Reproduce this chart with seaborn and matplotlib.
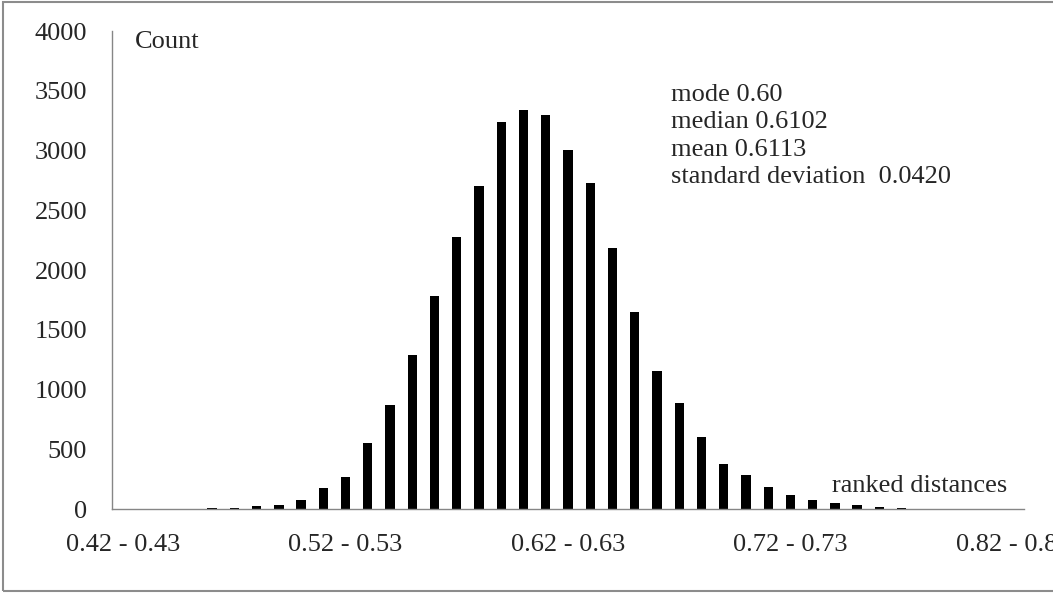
import matplotlib

matplotlib.use("Agg")

import matplotlib.pyplot as plt
import pandas as pd
import seaborn as sns
from matplotlib.patches import Rectangle
from matplotlib.ticker import FixedLocator

W, H = 1053, 593

# bins of ranked distances, 0.42-0.43 ... 0.82-0.83
bin_starts = [0.42 + 0.01 * i for i in range(41)]
bin_labels = [f"{s:.2f} - {s + 0.01:.2f}" for s in bin_starts]
counts = [
    0, 0, 0, 0, 14, 15, 25, 36, 78, 176,
    270, 552, 871, 1288, 1784, 2275, 2706, 3241, 3339, 3295,
    3005, 2726, 2188, 1653, 1159, 892, 602, 376, 290, 184,
    120, 78, 56, 33, 22, 14, 0, 0, 0, 0,
    0,
]
y_ticks = [0, 500, 1000, 1500, 2000, 2500, 3000, 3500, 4000]
stats_lines = ["mode 0.60", "median 0.6102", "mean 0.6113", "standard deviation  0.0420"]

df = pd.DataFrame({"bin": bin_labels, "count": counts})

sns.set_style("white")
plt.rcParams["font.family"] = ["Liberation Serif", "DejaVu Serif"]
FS = 19
GREY = "#868686"

fig = plt.figure(figsize=(W / 100, H / 100), dpi=100)
ax = fig.add_axes([112 / W, 1 - 509.3 / H, 912 / W, 478.3 / H])

sns.barplot(data=df, x="bin", y="count", order=bin_labels, color="black",
            saturation=1, width=0.42, linewidth=0, ax=ax)

ax.set_xlim(-0.5, len(bin_labels) - 0.5)
ax.set_ylim(0, 4000)
ax.set_yticks(y_ticks)
ax.set_yticklabels([str(v) for v in y_ticks], fontsize=FS)

major = list(range(0, len(bin_labels), 10))
ax.set_xticks(major)
ax.set_xticklabels([bin_labels[i] for i in major], fontsize=FS)
ax.xaxis.set_minor_locator(FixedLocator([i - 0.5 for i in range(len(bin_labels) + 1)]))
ax.tick_params(axis="x", which="major", length=0, pad=18)
ax.tick_params(axis="x", which="minor", length=5, width=1, color=GREY, direction="out")
ax.tick_params(axis="y", length=6, width=1, color=GREY, direction="out", pad=12)
ax.set_xlabel("")
ax.set_ylabel("")

for side in ["top", "right"]:
    ax.spines[side].set_visible(False)
for side in ["left", "bottom"]:
    ax.spines[side].set_color(GREY)
    ax.spines[side].set_linewidth(1)

fig.text(135 / W, 1 - 48 / H, "Count", fontsize=FS, va="baseline")
for k, line in enumerate(stats_lines):
    fig.text(671 / W, 1 - (101 + 27.4 * k) / H, line, fontsize=FS, va="baseline")
fig.text(832 / W, 1 - 492 / H, "ranked distances", fontsize=FS, va="baseline")

fig.patches.append(Rectangle((3 / W, 2 / H), 1.2, 1 - 4 / H, transform=fig.transFigure,
                             fill=False, edgecolor="#8c8c8c", linewidth=1.5))

fig.savefig("out.png", dpi=100)
